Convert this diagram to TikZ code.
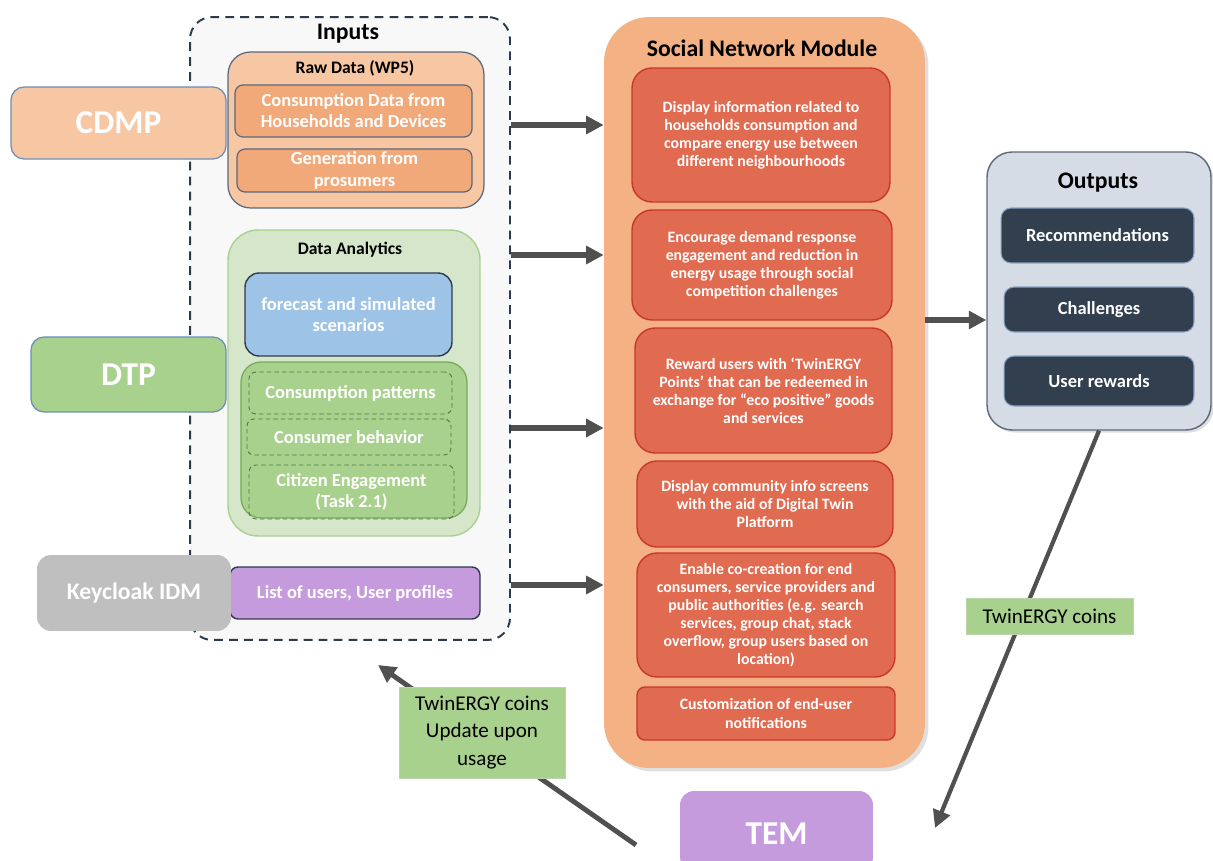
\documentclass[tikz,border=0pt]{standalone}
\usepackage{fontspec}
\setmainfont{Carlito}
\usetikzlibrary{arrows.meta,shadows}

\definecolor{inputbg}{HTML}{F8F8F8}
\definecolor{inputline}{HTML}{2E3A4B}
\definecolor{peach}{HTML}{F7C6A3}
\definecolor{peachdark}{HTML}{F2A97A}
\definecolor{slateline}{HTML}{5A687A}
\definecolor{blueline}{HTML}{6A8CB8}
\definecolor{palegreen}{HTML}{D6E6CB}
\definecolor{midgreen}{HTML}{A9D18E}
\definecolor{greenline}{HTML}{76A95A}
\definecolor{skyblue}{HTML}{9DC3E6}
\definecolor{navy}{HTML}{2F3B4E}
\definecolor{lilac}{HTML}{C59BDE}
\definecolor{greybox}{HTML}{BFBFBF}
\definecolor{snmorange}{HTML}{F4B183}
\definecolor{brick}{HTML}{E06B50}
\definecolor{brickline}{HTML}{C8372A}
\definecolor{outbg}{HTML}{D6DCE5}
\definecolor{outdark}{HTML}{323F4F}
\definecolor{arrowgrey}{HTML}{505050}

\tikzset{
  sysbox/.style={text=white, rounded corners=0.26cm, line width=0.7pt,
    font=\bfseries\fontsize{19}{22}\selectfont},
  title/.style={font=\bfseries\fontsize{13.5}{15}\selectfont},
  subtitle/.style={font=\bfseries\fontsize{10}{12}\selectfont},
  item/.style={text=white, align=center, inner sep=0pt,
    font=\bfseries\fontsize{10.5}{12}\selectfont},
  rawitem/.style={item, fill=peachdark, draw=slateline, line width=0.7pt, rounded corners=0.16cm},
  dashitem/.style={item, draw=greenline!70!black, line width=0.5pt,
    dash pattern=on 2.5pt off 1.8pt, rounded corners=0.14cm},
  snmitem/.style={item, fill=brick, draw=brickline, line width=0.8pt, rounded corners=0.4cm,
    font=\bfseries\fontsize{9}{10.3}\selectfont},
  outitem/.style={item, fill=outdark, draw=blueline!80, line width=0.6pt, rounded corners=0.2cm},
  coins/.style={fill=midgreen, draw=greenline!50, line width=0.5pt, align=center, inner sep=0pt,
    font=\fontsize{12}{15.4}\selectfont},
  flow/.style={draw=arrowgrey, line width=3pt, >={Triangle[length=10pt,width=10pt]}},
}

\begin{document}
\begin{tikzpicture}[x=0.02cm,y=-0.02cm]
\clip (0,0) rectangle (1213,861);

% inputs column
\node[fill=inputbg, draw=inputline, line width=1.1pt, dash pattern=on 5pt off 3.5pt,
  rounded corners=0.44cm, minimum width=6.4cm, minimum height=12.46cm] (inputs) at (350,328.5) {};
\node[title] (inputs-title) at (348,34) {Inputs};

\node[fill=peach, draw=slateline, line width=0.7pt, rounded corners=0.45cm,
  minimum width=5.12cm, minimum height=3.12cm] (raw) at (356,130) {};
\node[subtitle] (raw-title) at (355,68) {Raw Data (WP5)};
\node[rawitem, minimum width=4.74cm, minimum height=1.04cm] (cons) at (353.5,111)
  {Consumption Data from\\Households and Devices};
\node[rawitem, minimum width=4.7cm, minimum height=0.86cm] (gen) at (354.5,170.5)
  {Generation from\\prosumers};

\node[fill=palegreen, draw=midgreen, line width=0.8pt, rounded corners=0.6cm,
  minimum width=5.04cm, minimum height=6.12cm] (analytics) at (354,383) {};
\node[subtitle] (analytics-title) at (350,250) {Data Analytics};
\node[item, fill=skyblue, draw=navy, line width=0.8pt, rounded corners=0.28cm,
  minimum width=4.14cm, minimum height=1.66cm] (forecast) at (348.5,314.5)
  {forecast and simulated\\scenarios};
\node[fill=midgreen, draw=greenline, line width=0.7pt, rounded corners=0.4cm,
  minimum width=4.52cm, minimum height=3.12cm] (patterns) at (354,440) {};
\node[dashitem, minimum width=4.06cm, minimum height=0.84cm] (pat) at (350.5,393) {Consumption patterns};
\node[dashitem, minimum width=4.08cm, minimum height=0.72cm] (beh) at (349,437) {Consumer behavior};
\node[dashitem, minimum width=4.1cm, minimum height=1.08cm] (cit) at (351.5,492) {Citizen Engagement\\(Task 2.1)};

\node[item, fill=lilac, draw=navy, line width=0.8pt, rounded corners=0.16cm,
  minimum width=5cm, minimum height=1.04cm] (users) at (355,593) {List of users, User profiles};

% source systems
\node[sysbox, fill=peach, draw=blueline, minimum width=4.3cm, minimum height=1.44cm] (cdmp) at (118.5,123) {CDMP};
\node[sysbox, fill=midgreen, draw=blueline, minimum width=3.9cm, minimum height=1.5cm] (dtp) at (128.5,374.5) {DTP};
\node[sysbox, fill=greybox, rounded corners=0.28cm, minimum width=3.88cm, minimum height=1.52cm,
  font=\bfseries\fontsize{13.5}{16}\selectfont] (idm) at (134,593) {Keycloak IDM};

% social network module
\node[fill=snmorange, rounded corners=0.9cm, minimum width=6.42cm, minimum height=15.02cm,
  drop shadow={shadow xshift=2pt, shadow yshift=-2pt, opacity=0.25}] (snm) at (764.5,392.5) {};
\node[title] (snm-title) at (762,48) {Social Network Module};
\node[snmitem, minimum width=5.16cm, minimum height=2.68cm] (r1) at (761,135)
  {Display information related to\\households consumption and\\compare energy use between\\different neighbourhoods};
\node[snmitem, minimum width=5.2cm, minimum height=2.2cm] (r2) at (762,265)
  {Encourage demand response\\engagement and reduction in\\energy usage through social\\competition challenges};
\node[snmitem, minimum width=5.14cm, minimum height=2.5cm] (r3) at (763.5,390.5)
  {Reward users with ‘TwinERGY\\Points’ that can be redeemed in\\exchange for “eco positive” goods\\and services};
\node[snmitem, minimum width=5.12cm, minimum height=1.72cm] (r4) at (765,504)
  {Display community info screens\\with the aid of Digital Twin\\Platform};
\node[snmitem, minimum width=5.16cm, minimum height=2.48cm] (r5) at (766,615)
  {Enable co-creation for end\\consumers, service providers and\\public authorities (e.g. search\\services, group chat, stack\\overflow, group users based on\\location)};
\node[snmitem, rounded corners=0.16cm, minimum width=5.16cm, minimum height=1.06cm] (r6) at (766,713.5)
  {Customization of end-user\\notifications};

% outputs
\node[fill=outbg, draw=slateline, line width=0.8pt, rounded corners=0.5cm,
  minimum width=4.48cm, minimum height=5.56cm,
  drop shadow={shadow xshift=1.5pt, shadow yshift=-1.5pt, opacity=0.25}] (outputs) at (1099,291) {};
\node[title] (outputs-title) at (1098,183) {Outputs};
\node[outitem, minimum width=3.86cm, minimum height=1.1cm] (rec) at (1097.5,235.5) {Recommendations};
\node[outitem, minimum width=3.8cm, minimum height=0.9cm] (chal) at (1099,309.5) {Challenges};
\node[outitem, minimum width=3.8cm, minimum height=1cm] (rew) at (1099,381) {User rewards};

\node[sysbox, fill=lilac, rounded corners=0.28cm, minimum width=3.86cm, minimum height=1.6cm,
  text depth=0pt] (tem) at (776.5,831) {\raisebox{-3pt}{TEM}};

% flows
\foreach \y in {125,255,428,585}
  \draw[flow,->] (inputs.east |- 0,\y) -- (snm.west |- 0,\y);
\draw[flow,->] (snm.east |- 0,320) -- (outputs.west |- 0,320);

\coordinate (tem-in) at (935,828);
\coordinate (tem-out) at (636,845);
\coordinate (inputs-back) at (378,665);
\draw[flow,line width=2.4pt,->] (outputs.south) -- (tem-in);
\draw[flow,line width=2.8pt,->] (tem-out) -- (inputs-back);

\node[coins, minimum width=3.34cm, minimum height=0.72cm] (coins-out) at (1049.5,616) {TwinERGY coins};
\node[coins, minimum width=3.32cm, minimum height=1.82cm] (coins-back) at (482,732.5)
  {TwinERGY coins\\Update upon\\usage};
\end{tikzpicture}
\end{document}
